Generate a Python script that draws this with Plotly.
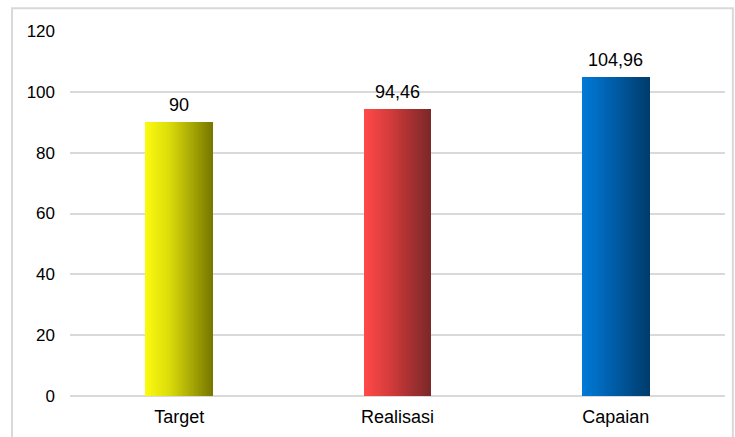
import plotly.graph_objects as go

# data
categories = ["Target", "Realisasi", "Capaian"]
values = [90, 94.46, 104.96]
labels = ["90", "94,46", "104,96"]

# gradient colours per bar (left, mid, right)
grad_left = [(250, 250, 15), (255, 72, 72), (0, 122, 214)]
grad_mid = [(220, 220, 10), (215, 60, 60), (0, 100, 180)]
grad_right = [(120, 120, 0), (125, 40, 40), (0, 60, 108)]

bar_w = 0.31
n_slices = 34
step = bar_w / n_slices


def mix(c1, c2, t):
    return "rgb({},{},{})".format(*[round(a + (b - a) * t) for a, b in zip(c1, c2)])


def shade(i, k):
    t = k / (n_slices - 1)
    if t < 0.35:
        return mix(grad_left[i], grad_mid[i], t / 0.35)
    return mix(grad_mid[i], grad_right[i], (t - 0.35) / 0.65)


fig = go.Figure()
# each slice runs to the right edge of the bar, later slices paint over -> no seams
for k in range(n_slices):
    fig.add_trace(go.Bar(
        x=categories, y=values,
        width=bar_w - k * step,
        offset=-bar_w / 2 + k * step,
        marker=dict(color=[shade(i, k) for i in range(len(categories))], line=dict(width=0)),
        showlegend=False, hoverinfo="skip",
    ))

for c, v, t in zip(categories, values, labels):
    fig.add_annotation(x=c, y=v, text=t, showarrow=False, yanchor="bottom", yshift=5,
                       font=dict(size=18, color="#000000"))

fig.update_layout(
    barmode="overlay",
    width=735, height=437,
    paper_bgcolor="white", plot_bgcolor="white",
    font=dict(family="Liberation Sans, Arial, sans-serif", size=17, color="#000000"),
    margin=dict(l=70, r=10, t=31, b=39),
    shapes=[dict(type="rect", xref="paper", yref="paper",
                 x0=-0.0885, x1=1.012, y0=-0.2, y1=1.062,
                 line=dict(color="#d9d9d9", width=2), fillcolor="rgba(0,0,0,0)", layer="below")],
)
fig.update_yaxes(range=[0, 120], dtick=20, showgrid=True, gridcolor="#d9d9d9", gridwidth=1.5,
                 zeroline=True, zerolinecolor="#d9d9d9", zerolinewidth=1.5,
                 showline=False, ticklabelstandoff=14, tickfont=dict(size=17))
fig.update_xaxes(showgrid=False, showline=False, ticklabelstandoff=8, tickfont=dict(size=18))

css = ("var s=document.createElement('style');"
       "s.innerHTML='.bars path{shape-rendering:crispEdges !important}';"
       "document.head.appendChild(s);document.body.style.margin='0';")
fig.write_html("out.html", config={"displayModeBar": False}, post_script=css)
